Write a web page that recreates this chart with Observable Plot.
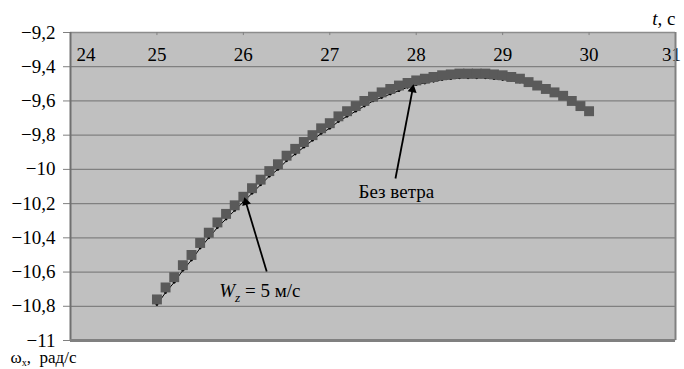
<!DOCTYPE html>
<html>
<head>
<meta charset="utf-8">
<script src="https://cdn.jsdelivr.net/npm/d3@7"></script>
<script src="https://cdn.jsdelivr.net/npm/@observablehq/plot@0.6"></script>
<style>
  html, body { margin: 0; padding: 0; background: #fff; font-family: "Liberation Serif", serif; }
</style>
</head>
<body>
<div id="chart"></div>
<script>
const times = [25.0,25.1,25.2,25.3,25.4,25.5,25.6,25.7,25.8,25.9,
  26.0,26.1,26.2,26.3,26.4,26.5,26.6,26.7,26.8,26.9,
  27.0,27.1,27.2,27.3,27.4,27.5,27.6,27.7,27.8,27.9,
  28.0,28.1,28.2,28.3,28.4,28.5,28.6,28.7,28.8,28.9,
  29.0,29.1,29.2,29.3,29.4,29.5,29.6,29.7,29.8,29.9,30.0];
const windValues = [-10.76,-10.69,-10.63,-10.56,-10.50,-10.43,-10.37,-10.31,-10.26,-10.21,
  -10.16,-10.11,-10.06,-10.01,-9.97,-9.92,-9.88,-9.84,-9.80,-9.76,
  -9.73,-9.69,-9.66,-9.63,-9.60,-9.575,-9.55,-9.53,-9.51,-9.495,
  -9.48,-9.47,-9.46,-9.45,-9.445,-9.44,-9.44,-9.44,-9.44,-9.445,
  -9.45,-9.46,-9.47,-9.49,-9.51,-9.53,-9.55,-9.57,-9.60,-9.63,-9.66];
const noWindValues = [-10.79,-10.72,-10.66,-10.59,-10.53,-10.46,-10.40,-10.34,-10.29,-10.24,
  -10.19,-10.14,-10.09,-10.04,-10.00,-9.95,-9.91,-9.87,-9.83,-9.79,
  -9.76,-9.72,-9.69,-9.66,-9.63,-9.60,-9.58,-9.56,-9.54,-9.52,
  -9.505,-9.495,-9.485,-9.475,-9.47,-9.465,-9.465,-9.465,-9.465,-9.47,
  -9.475,-9.48,-9.49,-9.50,-9.52,-9.54,-9.56,-9.58,-9.61,-9.64,-9.67];
const xTicks = [24,25,26,27,28,29,30,31];
const yTicks = [-9.2,-9.4,-9.6,-9.8,-10,-10.2,-10.4,-10.6,-10.8,-11];
const xLabel = "t, с";
const yLabel = "ω_x, рад/с";
const noWindLabel = "Без ветра";
const windLabel = "W_z = 5 м/с";

const wind = times.map((t, i) => ({t, v: windValues[i]}));
const noWind = times.map((t, i) => ({t, v: noWindValues[i]}));

const fmt = d => String(Math.round(d * 10) / 10).replace(".", ",").replace("-", "\u2212");
const serif = "Liberation Serif";

// annotation anchors (data coordinates)
const arrowNoWind = {x1: 27.76, y1: -10.053, x2: 27.97, y2: -9.504, hx: 27.958, hy: -9.533, rot: 11};
const arrowWind = {x1: 26.27, y1: -10.597, x2: 26.01, y2: -10.164, hx: 26.029, hy: -10.192, rot: -17};

const plot = Plot.plot({
  width: 684,
  height: 369,
  marginLeft: 70,
  marginRight: 9,
  marginTop: 32,
  marginBottom: 29,
  style: "background: white; color: black; overflow: visible;",
  x: {domain: [24, 31], axis: null},
  y: {domain: [-11, -9.2], axis: null},
  marks: [
    Plot.frame({fill: "#c0c0c0", stroke: null}),
    Plot.gridY(yTicks, {stroke: "#808080", strokeOpacity: 1, strokeWidth: 1.2}),
    Plot.axisY(yTicks, {tickSize: 7, tickPadding: 8, tickFormat: fmt, stroke: "#808080", fill: "black", fontSize: 19, fontFamily: serif}),
    Plot.ruleY([-9.2], {stroke: "#8c8c8c", strokeWidth: 1.5}),
    Plot.ruleX(xTicks.slice(1, -1), {x: d => d, y1: -9.2, y2: -9.218, stroke: "#808080"}),
    Plot.text(xTicks.slice(0, 1), {x: d => d, frameAnchor: "top", lineAnchor: "middle", dy: 22, dx: 6, textAnchor: "start", text: d => String(d), fontSize: 19, fontFamily: serif}),
    Plot.text(xTicks.slice(1, -1), {x: d => d, frameAnchor: "top", lineAnchor: "middle", dy: 22, text: d => String(d), fontSize: 19, fontFamily: serif}),
    Plot.text(xTicks.slice(-1), {x: d => d, frameAnchor: "top", lineAnchor: "middle", dy: 22, dx: -4, text: d => String(d), fontSize: 19, fontFamily: serif}),
    Plot.line(noWind, {x: "t", y: "v", stroke: "black", strokeWidth: 1}),
    Plot.dot(noWind, {x: "t", y: "v", r: 1.4, fill: "black", stroke: null}),
    Plot.dot(wind, {x: "t", y: "v", symbol: "square", r: 5.6, fill: "#5a5a5a", stroke: null}),
    Plot.ruleX([24], {stroke: "#707070", strokeWidth: 2}),
    Plot.ruleX([31], {stroke: "#808080", strokeWidth: 2}),
    Plot.ruleY([-11], {stroke: "#808080", strokeWidth: 3}),
    Plot.link([arrowNoWind, arrowWind], {x1: "x1", y1: "y1", x2: "hx", y2: "hy", stroke: "black", strokeWidth: 1.8}),
    Plot.dot([arrowNoWind], {x: "hx", y: "hy", symbol: "triangle", r: 3.4, fill: "black", stroke: null, rotate: arrowNoWind.rot}),
    Plot.dot([arrowWind], {x: "hx", y: "hy", symbol: "triangle", r: 3.4, fill: "black", stroke: null, rotate: arrowWind.rot}),
    Plot.text([noWindLabel], {x: 27.77, y: -10.13, text: d => d, fontSize: 19, fontFamily: serif}),
    Plot.text([windLabel], {x: 26.19, y: -10.71, text: d => d, fontSize: 19, fontFamily: serif, className: "wz-label"}),
    Plot.text([xLabel], {frameAnchor: "top-right", lineAnchor: "middle", dy: -14, text: d => d, textAnchor: "end", fontSize: 19, fontFamily: serif, className: "t-label"}),
    Plot.text([yLabel], {frameAnchor: "bottom-left", lineAnchor: "middle", dy: 17, dx: -60, text: d => d, textAnchor: "start", fontSize: 17, fontFamily: serif, className: "w-label"})
  ]
});

const svg = d3.select(plot);
svg.selectAll("g.wz-label text").each(function() {
  const t = d3.select(this); t.text(null);
  t.append("tspan").attr("font-style", "italic").text("W");
  t.append("tspan").attr("font-style", "italic").attr("font-size", "0.7em").attr("dy", "0.35em").text("z");
  t.append("tspan").attr("dy", "-0.25em").text(" = 5 м/с");
});
svg.selectAll("g.t-label text").each(function() {
  const t = d3.select(this); t.text(null);
  t.append("tspan").attr("font-style", "italic").text("t");
  t.append("tspan").text(", с");
});
svg.selectAll("g.w-label text").each(function() {
  const t = d3.select(this); t.text(null);
  t.append("tspan").text("ω");
  t.append("tspan").attr("font-size", "0.6em").attr("dy", "0.25em").text("x");
  t.append("tspan").attr("dy", "-0.15em").text(",\u00a0\u00a0рад/с");
});
svg.selectAll("text").style("font-family", "'Liberation Serif', serif", "important");
document.getElementById("chart").appendChild(plot);
</script>
</body>
</html>
